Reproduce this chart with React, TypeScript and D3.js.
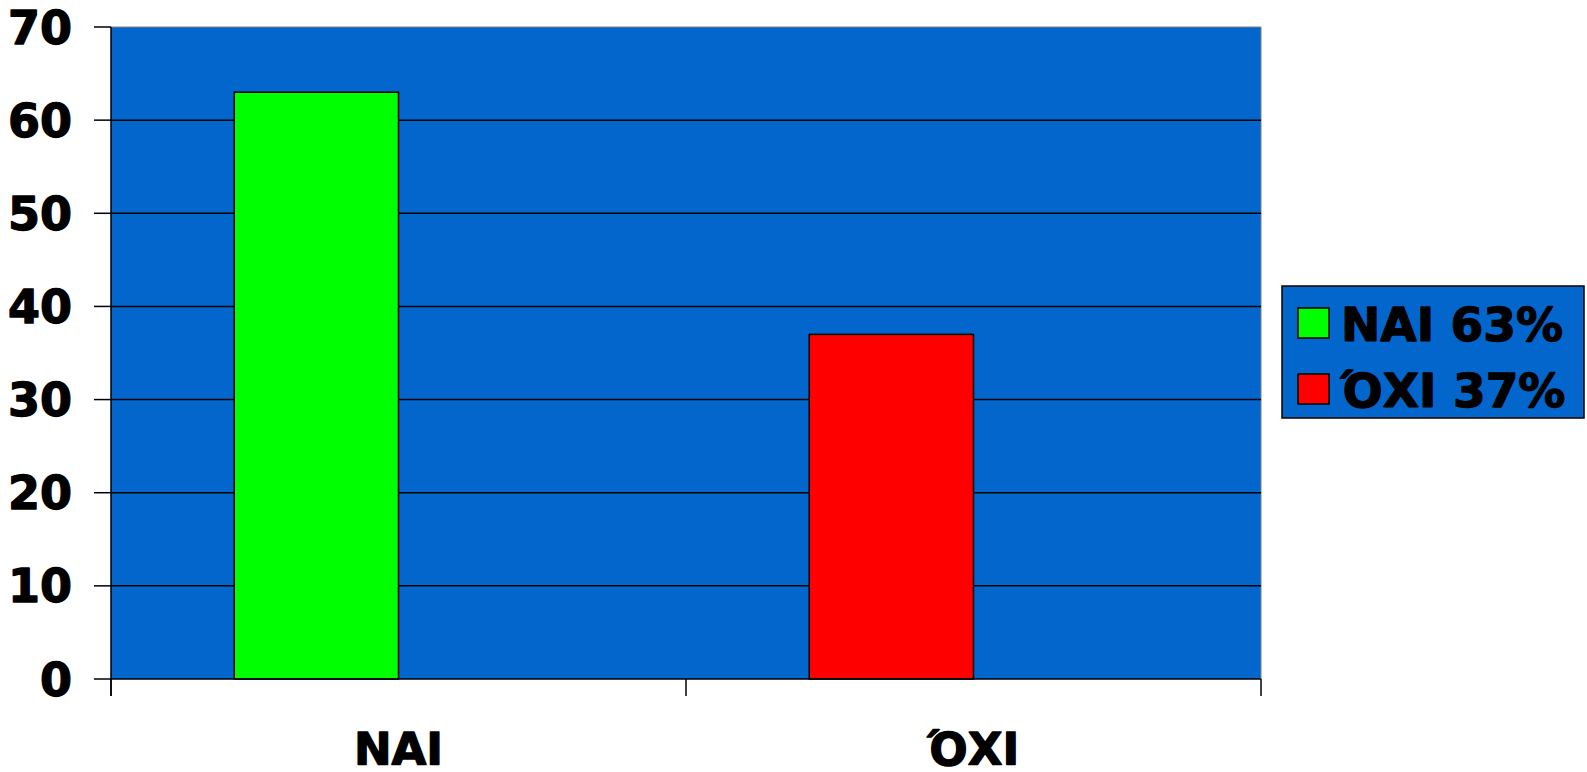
import React from "react";
import * as d3 from "d3";

const categories = ["ΝΑΙ", "ΌΧΙ"];
const values = [63, 37];
const colors = ["#00FF00", "#FF0000"];
const legendLabels = ["ΝΑΙ 63%", "ΌΧΙ 37%"];
const yTicks = [0, 10, 20, 30, 40, 50, 60, 70];
const slots = ["s1", "s2"];

const W = 1587;
const H = 772;
const left = 111;
const right = 1261;
const top = 27;
const bottom = 679;
const BLUE = "#0366CC";
const FONT = "'DejaVu Sans', Verdana, sans-serif";
const TXT = { fill: "#000", stroke: "#000", strokeWidth: 1.3, strokeLinejoin: "round" as const };

export default function App() {
  const x0 = d3.scaleBand<string>().domain(categories).range([left, right]).padding(0);
  const x1 = d3
    .scaleBand<string>()
    .domain(slots)
    .range([0, x0.bandwidth()])
    .paddingInner(0)
    .paddingOuter(0.75);
  const y = d3.scaleLinear().domain([0, 70]).range([bottom, top]);
  const xTickPos = [left, ...categories.slice(1).map((c) => x0(c)!), right];

  return (
    <svg
      width={W}
      height={H}
      style={{ position: "fixed", left: 0, top: 0, display: "block", background: "#fff" }}
      fontFamily={FONT}
      fontWeight="bold"
    >
      <rect x={left} y={top} width={right - left} height={bottom - top} fill={BLUE} />
      <line x1={left} x2={right} y1={top} y2={top} stroke="#808080" strokeWidth={1} />
      <line x1={right} x2={right} y1={top} y2={bottom} stroke="#808080" strokeWidth={1} />
      {yTicks.slice(1, -1).map((t) => (
        <line key={t} x1={left} x2={right} y1={y(t)} y2={y(t)} stroke="#000" strokeWidth={1.5} />
      ))}
      {values.map((v, i) => (
        <rect
          key={i}
          x={x0(categories[i])! + x1("s1")!}
          y={y(v)}
          width={x1.bandwidth()}
          height={y(0) - y(v)}
          fill={colors[i]}
          stroke="#000"
          strokeWidth={1.5}
        />
      ))}
      <line x1={left} x2={left} y1={top} y2={bottom + 17} stroke="#000" strokeWidth={1.5} />
      <line x1={left} x2={right} y1={bottom} y2={bottom} stroke="#000" strokeWidth={1.5} />
      {yTicks.map((t) => (
        <g key={t}>
          <line x1={left - 17} x2={left} y1={y(t)} y2={y(t)} stroke="#000" strokeWidth={1.5} />
          <text x={72} y={y(t)} dy="0.36em" textAnchor="end" fontSize={46} {...TXT}>
            {t}
          </text>
        </g>
      ))}
      {xTickPos.map((p, i) => (
        <line key={i} x1={p} x2={p} y1={bottom} y2={bottom + 17} stroke="#000" strokeWidth={1.5} />
      ))}
      {categories.map((c) => (
        <text
          key={c}
          x={x0(c)! + x0.bandwidth() / 2}
          y={765}
          textAnchor="middle"
          fontSize={45}
          {...TXT}
        >
          {c}
        </text>
      ))}
      <rect x={1282} y={286} width={302} height={132} fill={BLUE} stroke="#000" strokeWidth={1.5} />
      {legendLabels.map((l, i) => (
        <g key={l}>
          <rect
            x={1298}
            y={308 + i * 66}
            width={31}
            height={30}
            fill={colors[i]}
            stroke="#000"
            strokeWidth={1.5}
          />
          <text x={1341} y={341 + i * 66} fontSize={47} {...TXT}>
            {l}
          </text>
        </g>
      ))}
    </svg>
  );
}
